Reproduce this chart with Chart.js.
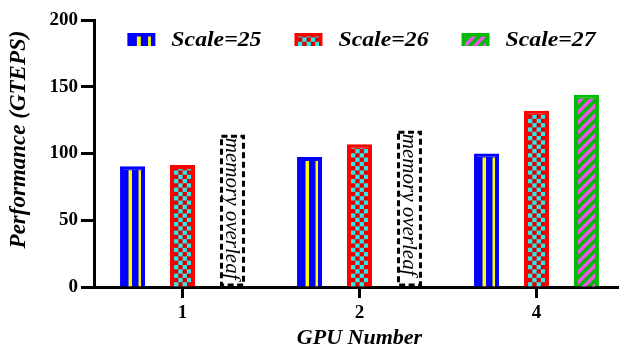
<!DOCTYPE html>
<html><head><meta charset="utf-8">
<script src="https://cdn.jsdelivr.net/npm/chart.js@4"></script>
<style>html,body{margin:0;padding:0;overflow:hidden;background:#fff}
#wrap{position:relative;width:625px;height:349px}</style></head>
<body><div id="wrap"><canvas id="c" width="625" height="349"></canvas></div>
<script>
// ---- data ----
const categories = ['1', '2', '4'];
const seriesLabels = ['Scale=25', 'Scale=26', 'Scale=27'];
const scale25 = [90.5, 97.3, 100];
const scale26 = [91.3, 106.9, 132];
const scale27 = [114, 117, 144];
const outOfMemory = [true, true, false]; // Scale=27 did not fit in GPU memory for these categories
const memoryLabel = 'memory overleaf';
const yTicks = [0, 50, 100, 150, 200];
const xTitle = 'GPU Number';
const yTitle = 'Performance (GTEPS)';

// ---- styles ----
const FAM = '"Liberation Serif", "Times New Roman", serif';
const styles = [
  {fill: '#0000ff', accent: '#ffff00', kind: 'stripes'},
  {fill: '#ff0000', accent: '#2ee8e8', kind: 'checker'},
  {fill: '#00bb00', accent: '#ee55ee', kind: 'diag'}
];

function drawPattern(ctx, kind, st, L, T, R, B, inset) {
  const w = R - L;
  ctx.save();
  ctx.beginPath();
  ctx.rect(L + inset, T + inset, w - 2 * inset, B - T - inset);
  ctx.clip();
  if (kind === 'stripes') {
    ctx.fillStyle = st.accent;
    ctx.fillRect(L + w * 0.34, T, w * 0.14, B - T);
    ctx.fillRect(L + w * 0.74, T, w * 0.10, B - T);
  } else if (kind === 'checker') {
    ctx.fillStyle = '#dd0000';
    ctx.fillRect(L, T, w, B - T);
    ctx.fillStyle = st.accent;
    const c = 4.3;
    let row = 0;
    for (let y = B; y > T - c; y -= c, row++) {
      let col = 0;
      for (let x = L + inset; x < R; x += c, col++) {
        if ((row + col) % 2 === 0) ctx.fillRect(x, y - c, c, c);
      }
    }
  } else if (kind === 'diag') {
    ctx.strokeStyle = st.accent;
    ctx.lineWidth = 3.5;
    ctx.beginPath();
    const h = B - T;
    for (let k = -w - 20; k < h + 20; k += 10) {
      ctx.moveTo(L - 5, B - k);
      ctx.lineTo(R + 5, B - k - (w + 10));
    }
    ctx.stroke();
  }
  ctx.restore();
}

const decoPlugin = {
  id: 'deco',
  afterDatasetsDraw(chart) {
    const ctx = chart.ctx;
    chart.data.datasets.forEach((ds, di) => {
      const meta = chart.getDatasetMeta(di);
      meta.data.forEach((el, i) => {
        const p = el.getProps(['x', 'y', 'base', 'width'], true);
        const L = p.x - p.width / 2, R = p.x + p.width / 2;
        if (di === 2 && outOfMemory[i]) {
          ctx.save();
          ctx.setLineDash([6, 3.5]);
          ctx.lineWidth = 3;
          ctx.strokeStyle = '#000';
          ctx.strokeRect(L + 1.5, p.y + 1.5, p.width - 3, p.base - p.y - 3);
          ctx.restore();
          ctx.save();
          ctx.translate(p.x, p.y + 3);
          ctx.rotate(Math.PI / 2);
          ctx.font = 'italic 21px ' + FAM;
          ctx.fillStyle = '#000';
          ctx.textAlign = 'left';
          ctx.textBaseline = 'middle';
          ctx.fillText(memoryLabel, 0, 1);
          ctx.restore();
          return;
        }
        drawPattern(ctx, styles[di].kind, styles[di], L, p.y, R, p.base, 4);
      });
    });
  },
  afterDraw(chart) {
    const ctx = chart.ctx;
    const ca = chart.chartArea;
    // y-axis title
    ctx.save();
    ctx.translate(19, (ca.top + ca.bottom) / 2 - 14);
    ctx.rotate(-Math.PI / 2);
    ctx.font = 'italic bold 23px ' + FAM;
    ctx.fillStyle = '#000';
    ctx.textAlign = 'center';
    ctx.textBaseline = 'middle';
    ctx.fillText(yTitle, 0, 0);
    ctx.restore();
    // legend
    ctx.save();
    ctx.font = 'italic bold 22px ' + FAM;
    const sx = 1.08;
    const sw = 28, sh = 13, gapT = 16, gapI = 33;
    const widths = seriesLabels.map(t => ctx.measureText(t).width * sx);
    const total = widths.reduce((a, b) => a + b, 0) + 3 * (sw + gapT) + 2 * gapI;
    let x = (ca.left + ca.right) / 2 - total / 2 + 2;
    const cy = 39.5;
    seriesLabels.forEach((t, i) => {
      const st = styles[i];
      ctx.fillStyle = st.fill;
      ctx.fillRect(x, cy - sh / 2, sw, sh);
      drawPattern(ctx, st.kind, st, x, cy - sh / 2, x + sw, cy + sh / 2, 3.5);
      ctx.save();
      ctx.translate(x + sw + gapT, cy);
      ctx.scale(sx, 1);
      ctx.fillStyle = '#000';
      ctx.textBaseline = 'middle';
      ctx.textAlign = 'left';
      ctx.fillText(t, 0, 1);
      ctx.restore();
      x += sw + gapT + widths[i] + gapI;
    });
    ctx.restore();
  }
};

const series = [scale25, scale26, scale27];
const datasets = series.map((vals, di) => ({
  label: seriesLabels[di],
  data: vals,
  backgroundColor: vals.map((v, i) => (di === 2 && outOfMemory[i]) ? 'rgba(0,0,0,0)' : styles[di].fill),
  borderColor: styles[di].fill,
  borderWidth: vals.map((v, i) => (di === 2 && outOfMemory[i]) ? 0 : 3),
  borderSkipped: 'start',
  categoryPercentage: 0.847,
  barPercentage: 0.5
}));

new Chart(document.getElementById('c'), {
  type: 'bar',
  data: {labels: categories, datasets},
  options: {
    responsive: false,
    animation: false,
    devicePixelRatio: 1,
    layout: {padding: {top: 20, left: 0, right: 0, bottom: 0}},
    plugins: {legend: {display: false}, tooltip: {enabled: false}},
    scales: {
      x: {
        offset: true,
        grid: {offset: false, drawOnChartArea: false, drawTicks: true, tickLength: 11, tickWidth: 3, tickColor: '#000'},
        border: {display: true, width: 3, color: '#000'},
        ticks: {color: '#000', font: {family: FAM, weight: 'bold', size: 19}, padding: 4},
        title: {display: true, text: xTitle, color: '#000', font: {family: FAM, weight: 'bold', style: 'italic', size: 22, lineHeight: 0.95}, padding: {top: 0, bottom: 0}},
        afterFit(s) { s.height = 62; }
      },
      y: {
        min: 0, max: 200,
        afterBuildTicks(s) { s.ticks = yTicks.map(v => ({value: v})); },
        grid: {drawOnChartArea: false, drawTicks: true, tickLength: 13, tickWidth: 3, tickColor: '#000'},
        border: {display: true, width: 3, color: '#000'},
        ticks: {color: '#000', font: {family: FAM, weight: 'bold', size: 19}, padding: 3},
        title: {display: false, text: yTitle},
        afterFit(s) { s.width = 94; }
      }
    }
  },
  plugins: [decoPlugin]
});
</script>
</body></html>
